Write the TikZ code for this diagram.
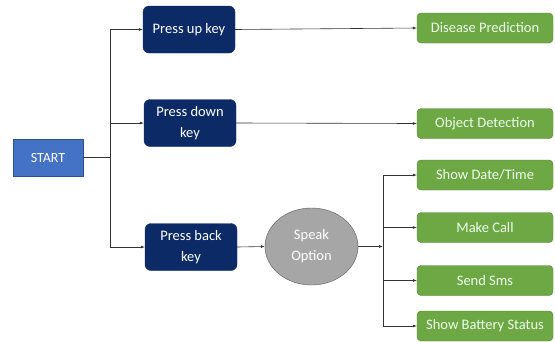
\documentclass[tikz,border=0pt]{standalone}
\usepackage{fontspec}
\setmainfont{Carlito}
\usetikzlibrary{arrows.meta,shapes.geometric}

\definecolor{navy}{HTML}{0C2B66}
\definecolor{startblue}{HTML}{4472C4}
\definecolor{leafgreen}{HTML}{6EA845}
\definecolor{speakgray}{HTML}{A6A6A6}

\tikzset{
    startbox/.style={draw=startblue!70!black, fill=startblue, text=white, minimum width=70pt, minimum height=37pt, font=\fontsize{14}{15}\selectfont},
    keybox/.style={draw=navy, fill=navy, text=white, rounded corners=6pt, minimum width=92pt, minimum height=47pt, align=center, font=\fontsize{14.5}{21}\selectfont},
    leafbox/.style={draw=leafgreen!75!black, fill=leafgreen, text=white!92!green, rounded corners=4pt, minimum width=136pt, minimum height=30pt, font=\fontsize{14.5}{16}\selectfont},
    speakbox/.style={ellipse, draw=gray!70!black, fill=speakgray, text=white, minimum width=93pt, minimum height=77pt, align=center, inner sep=0pt, font=\fontsize{14.5}{21}\selectfont},
    arr/.style={-{Latex[length=4pt,width=3pt]}, draw=black!80, line width=0.6pt},
    wire/.style={draw=black!80, line width=0.6pt}
}

\begin{document}
\begin{tikzpicture}[x=1pt, y=-1pt]
            \useasboundingbox (0,0) rectangle (555,341);

            \node[startbox] (start) at (48,157.5) {START};

            \node[keybox] (up) at (189,29.5) {Press up key};
            \node[keybox] (down) at (190,123) {Press down\\key};
            \node[keybox] (back) at (191,247) {Press back\\key};
            \node[speakbox] (speak) at (311.5,246.5) {Speak\\Option};

            \node[leafbox] (disease) at (485,28) {Disease Prediction};
            \node[leafbox] (object) at (485,123.5) {Object Detection};
            \node[leafbox] (datetime) at (485,175) {Show Date/Time};
            \node[leafbox] (call) at (485,227.5) {Make Call};
            \node[leafbox] (sms) at (485,280.5) {Send Sms};
            \node[leafbox] (battery) at (485,326) {Show Battery Status};

            % start fans out to the three keys
            \coordinate (fork) at (110,157.5);
            \draw[wire] (start.east) -- (fork);
            \draw[wire] (fork |- up.west) -- (fork |- back.west);
            \foreach \k in {up, down, back}
                \draw[arr] (fork |- \k.west) -- (\k.west);

            \draw[arr] (up.east) -- (disease.west);
            \draw[arr] (down.east) -- (object.west);
            \draw[arr] (back.east) -- (speak.west);

            % speak option fans out to the four commands
            \coordinate (fork2) at (383,246.5);
            \draw[arr] (speak.east) -- (fork2);
            \draw[wire] (fork2 |- datetime.west) -- (fork2 |- battery.west);
            \foreach \k in {datetime, call, sms, battery}
                \draw[arr] (fork2 |- \k.west) -- (\k.west);
        \end{tikzpicture}
\end{document}
